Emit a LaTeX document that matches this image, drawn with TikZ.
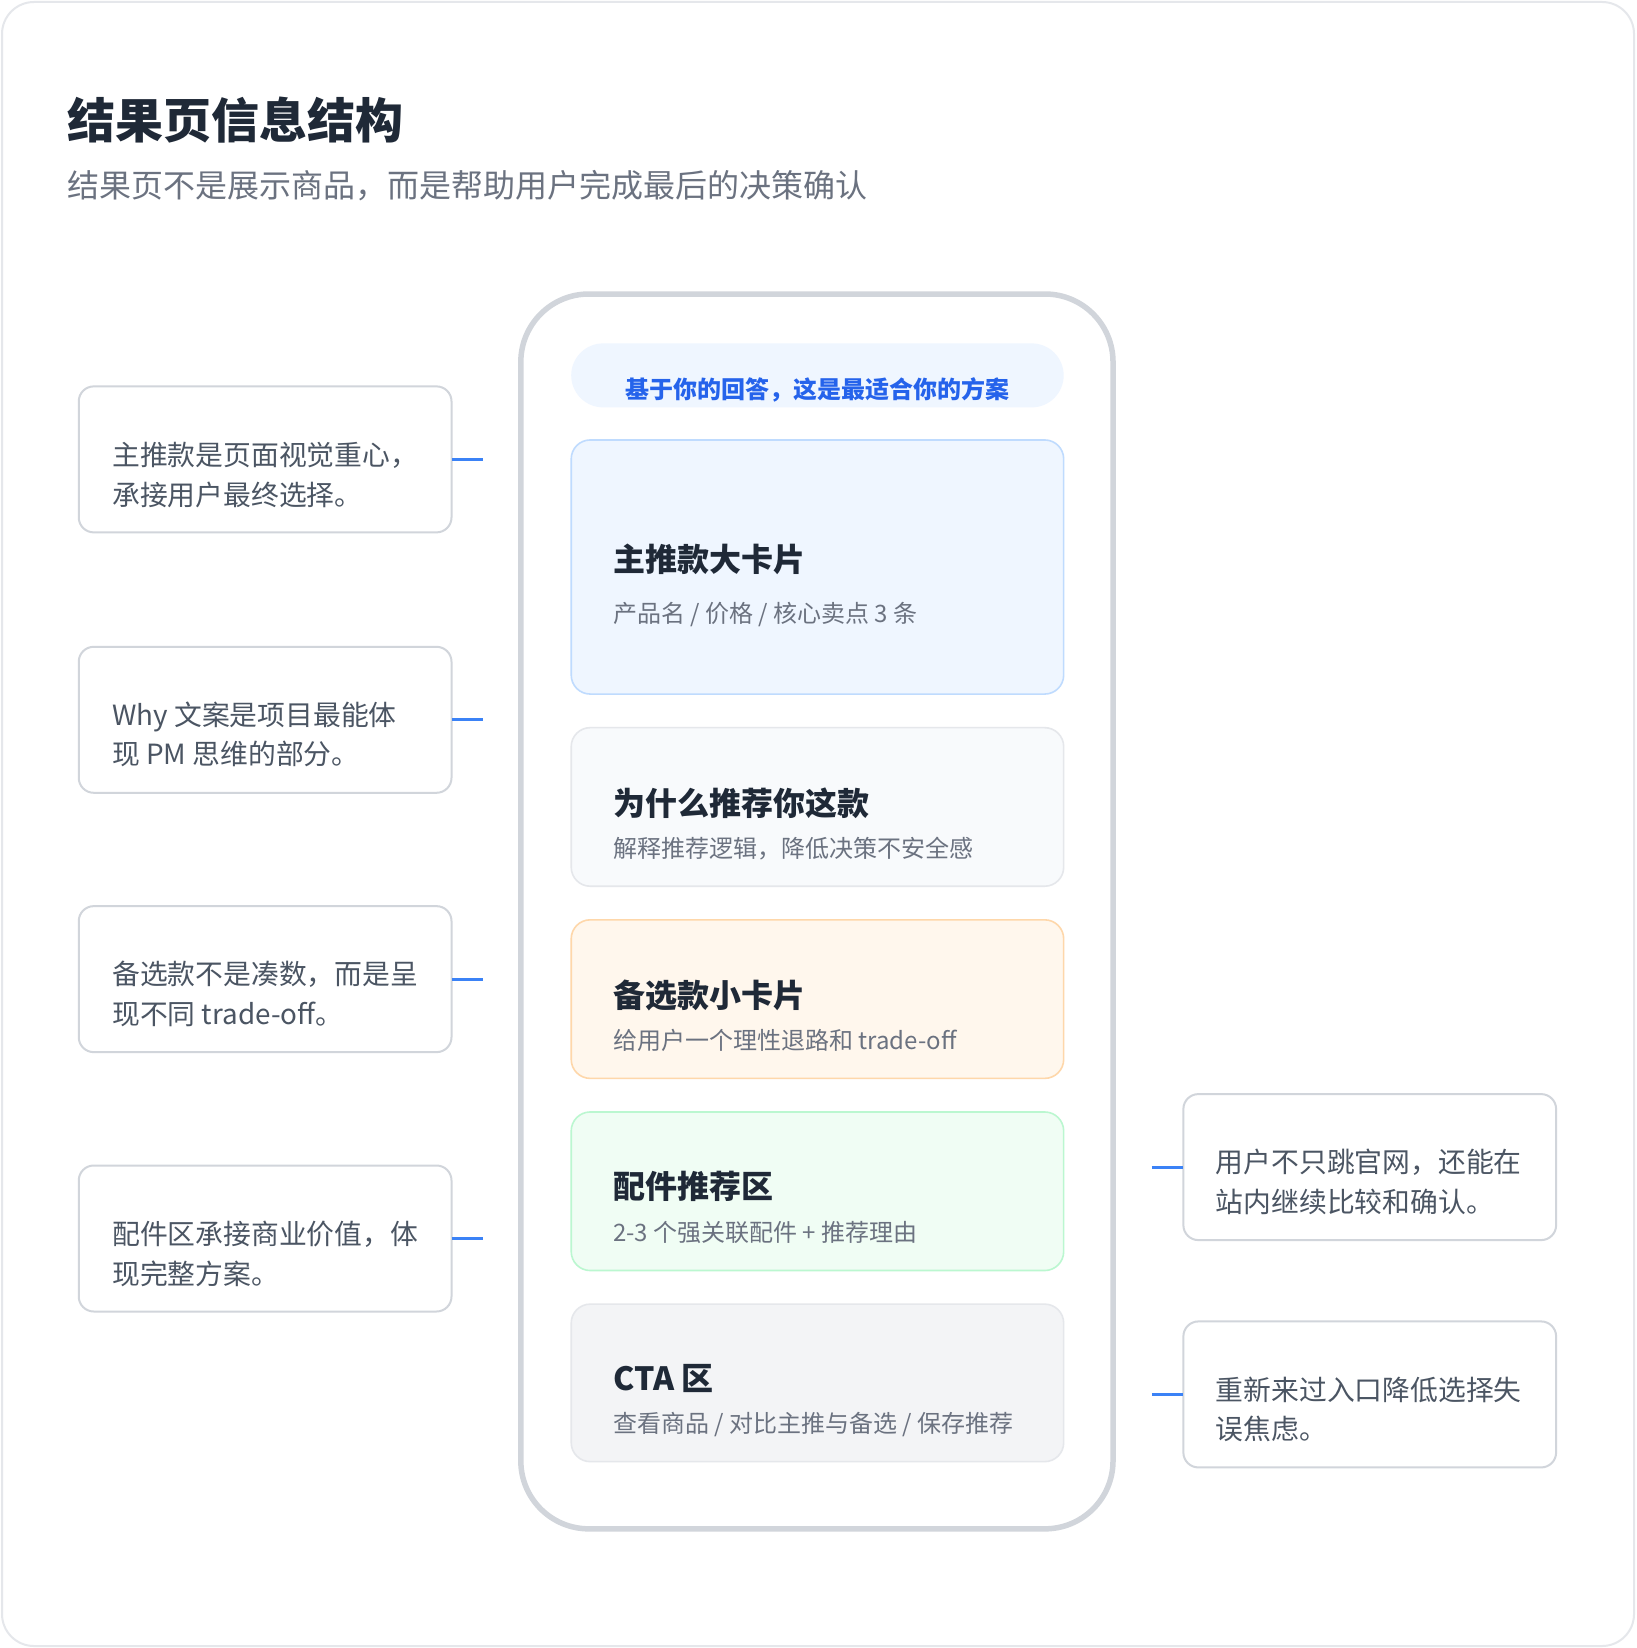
\documentclass[tikz,border=0pt]{standalone}
\usepackage{fontspec}
\setmainfont{Noto Sans CJK SC}
\definecolor{framegray}{HTML}{E5E7EB}
\definecolor{phonegray}{HTML}{D1D5DB}
\definecolor{notegray}{HTML}{D1D5DB}
\definecolor{titledark}{HTML}{1F2937}
\definecolor{subgray}{HTML}{6B7280}
\definecolor{notetext}{HTML}{4B5563}
\definecolor{linkblue}{HTML}{3B82F6}
\definecolor{pilltext}{HTML}{2563EB}
\definecolor{bluefill}{HTML}{EFF6FF}
\definecolor{blueline}{HTML}{BFDBFE}
\definecolor{grayfill}{HTML}{F8FAFC}
\definecolor{orangefill}{HTML}{FFF7ED}
\definecolor{orangeline}{HTML}{FED7AA}
\definecolor{greenfill}{HTML}{F0FDF4}
\definecolor{greenline}{HTML}{BBF7D0}
\definecolor{ctafill}{HTML}{F3F4F6}
\tikzset{
  txt/.style={anchor=base west, inner sep=0pt, outer sep=0pt},
  notebox/.style={draw=notegray, line width=2pt, fill=white, rounded corners=15pt,
    minimum width=372.75pt, minimum height=146pt, inner sep=0pt, outer sep=0pt},
  notetxt/.style={txt, text=notetext, font=\fontsize{27.8}{33}\selectfont},
  card/.style={line width=1.6pt, rounded corners=19pt, minimum width=492.45pt,
    inner sep=0pt, outer sep=0pt},
  cardtitle/.style={txt, text=titledark, font=\fontsize{32}{38}\selectfont\bfseries},
  cardsub/.style={txt, text=subgray, font=\fontsize{24}{29}\selectfont},
  link/.style={draw=linkblue, line width=3.2pt}
}
\begin{document}
\begin{tikzpicture}[x=1.05pt, y=-1.05pt]
\useasboundingbox (0,0) rectangle (1558.1,1569.5);
% outer frame
\node[draw=framegray, line width=2pt, rounded corners=32pt, fill=white,
  minimum width=1632pt, minimum height=1644pt, inner sep=0pt, outer sep=0pt]
  (frame) at (779.05,784.75) {};
% title
\node[txt, text=titledark, font=\fontsize{48}{57}\selectfont\bfseries] (title) at (64,131.5) {结果页信息结构};
\node[txt, text=subgray, font=\fontsize{32}{38}\selectfont] (subtitle) at (64,188.5) {结果页不是展示商品，而是帮助用户完成最后的决策确认};
% phone
\node[draw=phonegray, line width=5.5pt, rounded corners=68pt, minimum width=592.2pt,
  minimum height=1234.8pt, inner sep=0pt, outer sep=0pt] (phone) at (778,868) {};
% pill
\node[fill=bluefill, rounded corners=32pt, minimum width=492.45pt, minimum height=64pt,
  inner sep=0pt, outer sep=0pt] (pill) at (778.5,357.5) {};
\node[anchor=base, inner sep=0pt, text=pilltext, font=\fontsize{24}{29}\selectfont\bfseries] (pilltxt) at (778.5,379.7) {基于你的回答，这是最适合你的方案};
% cards
\node[card, draw=blueline, fill=bluefill, minimum height=254.1pt] (c1) at (778.5,540) {};
\node[cardtitle] (c1t) at (584,544.5) {主推款大卡片};
\node[cardsub] (c1s) at (584,592.7) {产品名 / 价格 / 核心卖点 3 条};
\node[card, draw=framegray, fill=grayfill, minimum height=158.55pt] (c2) at (778.5,768.5) {};
\node[cardtitle] (c2t) at (584,776.5) {为什么推荐你这款};
\node[cardsub] (c2s) at (584,816.7) {解释推荐逻辑，降低决策不安全感};
\node[card, draw=orangeline, fill=orangefill, minimum height=158.55pt] (c3) at (778.5,951.5) {};
\node[cardtitle] (c3t) at (584,959.5) {备选款小卡片};
\node[cardsub] (c3s) at (584,999.7) {给用户一个理性退路和 trade-off};
\node[card, draw=greenline, fill=greenfill, minimum height=158.55pt] (c4) at (778.5,1134.5) {};
\node[cardtitle] (c4t) at (584,1141.5) {配件推荐区};
\node[cardsub] (c4s) at (584,1182.7) {2-3 个强关联配件 + 推荐理由};
\node[card, draw=framegray, fill=ctafill, minimum height=157.5pt] (c5) at (778.5,1317) {};
\node[cardtitle] (c5t) at (584,1324.5) {CTA 区};
\node[cardsub] (c5s) at (584,1364.7) {查看商品 / 对比主推与备选 / 保存推荐};
% left notes
\node[notebox] (n1) at (252.5,437.5) {};
\node[notetxt] (n1a) at (107,443) {主推款是页面视觉重心，};
\node[notetxt] (n1b) at (107,481) {承接用户最终选择。};
\node[notebox] (n2) at (252.5,685.5) {};
\node[notetxt] (n2a) at (107,691) {Why 文案是项目最能体};
\node[notetxt] (n2b) at (107,728) {现 PM 思维的部分。};
\node[notebox] (n3) at (252.5,932.5) {};
\node[notetxt] (n3a) at (107,938) {备选款不是凑数，而是呈};
\node[notetxt] (n3b) at (107,976) {现不同 trade-off。};
\node[notebox] (n4) at (252.5,1179.5) {};
\node[notetxt] (n4a) at (107,1185) {配件区承接商业价值，体};
\node[notetxt] (n4b) at (107,1223) {现完整方案。};
% right notes
\node[notebox] (r1) at (1304.5,1111.5) {};
\node[notetxt] (r1a) at (1158,1117) {用户不只跳官网，还能在};
\node[notetxt] (r1b) at (1158,1155) {站内继续比较和确认。};
\node[notebox] (r2) at (1304.5,1328) {};
\node[notetxt] (r2a) at (1158,1334) {重新来过入口降低选择失};
\node[notetxt] (r2b) at (1158,1371) {误焦虑。};
% connectors
\coordinate (e1) at (460,437.5);
\coordinate (e2) at (460,685.5);
\coordinate (e3) at (460,932.5);
\coordinate (e4) at (460,1179.5);
\coordinate (s1) at (1097,1111.5);
\coordinate (s2) at (1097,1328);
\draw[link] (n1.east) -- (e1);
\draw[link] (n2.east) -- (e2);
\draw[link] (n3.east) -- (e3);
\draw[link] (n4.east) -- (e4);
\draw[link] (s1) -- (r1.west);
\draw[link] (s2) -- (r2.west);
\end{tikzpicture}
\end{document}
